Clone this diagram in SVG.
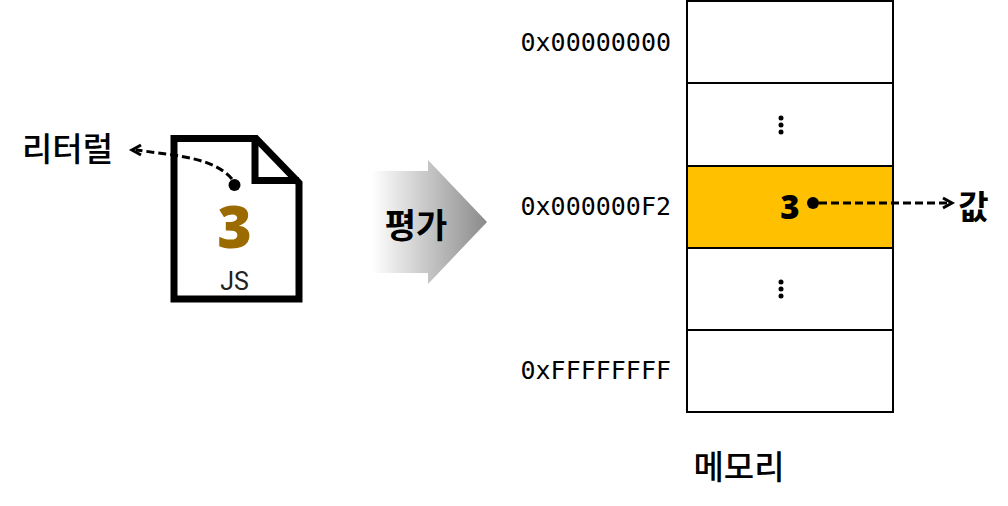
<svg xmlns="http://www.w3.org/2000/svg" width="1008" height="506" viewBox="0 0 1008 506">
<style>
.ko{font-family:"Noto Sans CJK KR","Noto Sans",sans-serif;font-weight:700;fill:#000}
.addr{font-family:"DejaVu Sans Mono",monospace;font-size:25px;fill:#000;text-anchor:end}
.cell{fill:#fff;stroke:#000;stroke-width:2}
.dash{fill:none;stroke:#000;stroke-width:3;stroke-dasharray:8 4}
.head{fill:none;stroke:#000;stroke-width:3}
</style>
<defs>
<linearGradient id="g" x1="0" x2="1" y1="0" y2="0"><stop offset="0" stop-color="#fff"/><stop offset="1" stop-color="#8a8a8a"/></linearGradient>
</defs>
<rect width="1008" height="506" fill="#fff"/>
<g id="file">
<path d="M174 138.500H256L299 183V299H174Z" fill="#fff" stroke="#000" stroke-width="7"/>
<path d="M255 138V180.500H299" fill="none" stroke="#000" stroke-width="7"/>
<text x="234.500" y="247.500" text-anchor="middle" font-family="'Open Sans',sans-serif" font-weight="800" font-size="59" fill="#9c6b00">3</text>
<text x="234.500" y="290" text-anchor="middle" font-family="Roboto,sans-serif" font-size="25" fill="#222">JS</text>
</g>
<g id="literal-label"><text class="ko" x="22" y="161" font-size="33" style="font-weight:500">리터럴</text></g>
<g id="evaluate-arrow">
<path d="M372 171H428V160L487 222L428 284V273H372Z" fill="url(#g)"/>
<text class="ko" x="416" y="238" text-anchor="middle" font-size="34">평가</text>
</g>
<g id="memory">
<rect class="cell" x="687" y="1" width="206" height="82"/>
<rect class="cell" x="687" y="83" width="206" height="83"/>
<rect class="cell" x="687" y="248" width="206" height="82"/>
<rect class="cell" x="687" y="330" width="206" height="82"/>
<rect x="687" y="166" width="206" height="82" fill="#ffc000" stroke="#000" stroke-width="2"/>
<g fill="#000"><circle cx="781" cy="118" r="2.500"/><circle cx="781" cy="125" r="2.500"/><circle cx="781" cy="132" r="2.500"/><circle cx="781" cy="282" r="2.500"/><circle cx="781" cy="289" r="2.500"/><circle cx="781" cy="296" r="2.500"/></g>
<text x="790" y="218.500" text-anchor="middle" font-family="'Open Sans',sans-serif" font-weight="800" font-size="33" fill="#000">3</text>
</g>
<g id="addresses">
<text class="addr" x="671" y="51">0x00000000</text>
<text class="addr" x="671" y="215">0x000000F2</text>
<text class="addr" x="671" y="379">0xFFFFFFFF</text>
</g>
<g id="value-label"><text class="ko" x="973.500" y="219" text-anchor="middle" font-size="33">값</text></g>
<g id="memory-label"><text class="ko" x="739" y="479" text-anchor="middle" font-size="33" style="font-weight:500">메모리</text></g>
<g id="connectors">
<circle cx="234.500" cy="185" r="6"/>
<path class="dash" d="M232 179C214 158 180 156 136 150"/>
<path class="head" d="M141 145L132 150L141 155"/>
<circle cx="813" cy="203" r="6"/>
<path class="dash" d="M819 203H950"/>
<path class="head" d="M943 198L952 203L943 208"/>
</g>
</svg>
